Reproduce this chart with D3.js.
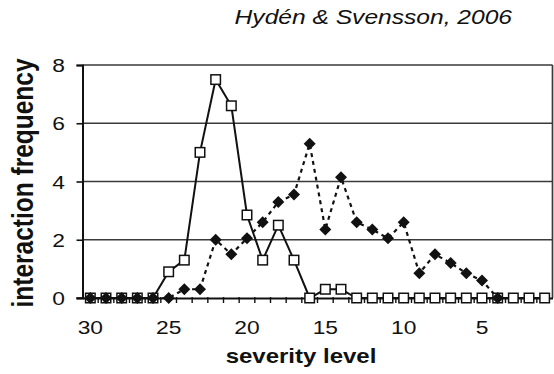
<!DOCTYPE html>
<html>
<head>
<meta charset="utf-8">
<script src="https://cdn.jsdelivr.net/npm/d3@7"></script>
<style>
  html, body { margin: 0; padding: 0; background: #fff; }
  svg { display: block; }
  text { font-family: "Liberation Sans", Arial, Helvetica, sans-serif; fill: #111; }
</style>
</head>
<body>
<svg id="chart" width="554" height="374"></svg>
<script>
// Severity levels on the category axis (descending, left to right)
const severityLevels = [30, 29, 28, 27, 26, 25, 24, 23, 22, 21, 20, 19, 18, 17, 16,
                        15, 14, 13, 12, 11, 10, 9, 8, 7, 6, 5, 4, 3, 2, 1];
// Solid series with open squares
const squareSeries = [0, 0, 0, 0, 0, 0.9, 1.3, 5.0, 7.5, 6.6, 2.85, 1.3, 2.5, 1.3, 0,
                      0.3, 0.3, 0, 0, 0, 0, 0, 0, 0, 0, 0, 0, 0, 0, 0];
// Dotted series with filled diamonds (no data below level 4)
const diamondSeries = [0, 0, 0, 0, 0, 0, 0.3, 0.3, 2.0, 1.5, 2.05, 2.6, 3.3, 3.55, 5.3,
                       2.35, 4.15, 2.6, 2.35, 2.05, 2.6, 0.85, 1.5, 1.2, 0.85, 0.6, 0, null, null, null];
const xTickLabels = [30, 25, 20, 15, 10, 5];
const yTickValues = [0, 2, 4, 6, 8];
const titleText = "Hydén & Svensson, 2006";
const xTitle = "severity level";
const yTitle = "interaction frequency";

const svg = d3.select("#chart");
const plot = { left: 82.5, right: 552.5, top: 65, bottom: 298 };
const SX = 1.2; // horizontal text stretch

const x = d3.scaleBand().domain(severityLevels).range([plot.left, plot.right]).padding(0);
const xc = d => x(d) + x.bandwidth() / 2;
const y = d3.scaleLinear().domain([0, 8]).range([plot.bottom, plot.top]);

// Horizontal gridlines
svg.append("g").selectAll("line")
  .data(yTickValues.filter(v => v > 0))
  .join("line")
  .attr("x1", plot.left).attr("x2", plot.right)
  .attr("y1", d => y(d)).attr("y2", d => y(d))
  .attr("stroke", "#3a3a3a").attr("stroke-width", 1.7);

// Right border
svg.append("line")
  .attr("x1", plot.right).attr("x2", plot.right)
  .attr("y1", plot.top).attr("y2", plot.bottom)
  .attr("stroke", "#3a3a3a").attr("stroke-width", 1.7);

// Y axis
const yAxis = d3.axisLeft(y).tickValues(yTickValues).tickSize(6).tickFormat("");
const gy = svg.append("g").attr("transform", `translate(${plot.left},0)`).call(yAxis);
gy.select(".domain").attr("stroke", "#111").attr("stroke-width", 2);
gy.selectAll(".tick line").attr("stroke", "#111").attr("stroke-width", 1.6);

// Y tick labels
svg.append("g").selectAll("text")
  .data(yTickValues)
  .join("text")
  .attr("transform", d => `translate(65,${y(d) + 7}) scale(${SX},1)`)
  .attr("text-anchor", "end")
  .attr("font-size", 19)
  .text(d => d);

// X axis with ticks between categories
const xAxis = d3.axisBottom(x).tickSize(0).tickFormat("");
const gx = svg.append("g").attr("transform", `translate(0,${plot.bottom})`).call(xAxis);
gx.select(".domain").attr("stroke", "#111").attr("stroke-width", 2);
gx.selectAll(".tick").remove();
gx.append("g").selectAll("line")
  .data(severityLevels.slice(1))
  .join("line")
  .attr("x1", d => x(d)).attr("x2", d => x(d))
  .attr("y1", -1).attr("y2", 5)
  .attr("stroke", "#111").attr("stroke-width", 1.4);
// extend axis line slightly left of the y axis
svg.append("line")
  .attr("x1", plot.left - 6).attr("x2", plot.left)
  .attr("y1", plot.bottom).attr("y2", plot.bottom)
  .attr("stroke", "#111").attr("stroke-width", 1.6);

// X tick labels
svg.append("g").selectAll("text")
  .data(xTickLabels)
  .join("text")
  .attr("transform", d => `translate(${xc(d)},333.5) scale(${SX},1)`)
  .attr("text-anchor", "middle")
  .attr("font-size", 19)
  .text(d => d);

// Series points
const squarePoints = severityLevels.map((s, i) => ({ s, v: squareSeries[i] }));
const diamondPoints = severityLevels.map((s, i) => ({ s, v: diamondSeries[i] }));

const line = d3.line()
  .defined(d => d.v !== null)
  .x(d => xc(d.s))
  .y(d => y(d.v));

svg.append("path")
  .datum(diamondPoints)
  .attr("d", line)
  .attr("fill", "none")
  .attr("stroke", "#111")
  .attr("stroke-width", 2.2)
  .attr("stroke-dasharray", "4,4");

svg.append("path")
  .datum(squarePoints)
  .attr("d", line)
  .attr("fill", "none")
  .attr("stroke", "#111")
  .attr("stroke-width", 2);

// Open square markers
const sq = 9.5;
svg.append("g").selectAll("rect")
  .data(squarePoints)
  .join("rect")
  .attr("x", d => xc(d.s) - sq / 2)
  .attr("y", d => y(d.v) - sq / 2)
  .attr("width", sq).attr("height", sq)
  .attr("fill", "#fff")
  .attr("stroke", "#111")
  .attr("stroke-width", 1.5);

// Diamond markers
const dr = 6;
svg.append("g").selectAll("path")
  .data(diamondPoints.filter(d => d.v !== null))
  .join("path")
  .attr("transform", d => `translate(${xc(d.s)},${y(d.v)})`)
  .attr("d", `M0,${-dr}L${dr},0L0,${dr}L${-dr},0Z`)
  .attr("fill", "#111");

// Titles
svg.append("text")
  .attr("transform", `translate(512,23.5) scale(${SX},1)`)
  .attr("text-anchor", "end")
  .attr("font-size", 20.5)
  .attr("font-style", "italic")
  .text(titleText);

svg.append("text")
  .attr("transform", `translate(301,363) scale(${SX},1)`)
  .attr("text-anchor", "middle")
  .attr("font-size", 20)
  .attr("font-weight", "bold")
  .text(xTitle);

svg.append("text")
  .attr("transform", `translate(33,183) scale(${SX},1) rotate(-90)`)
  .attr("text-anchor", "middle")
  .attr("font-size", 24.5)
  .attr("font-weight", "bold")
  .text(yTitle);
</script>
</body>
</html>
